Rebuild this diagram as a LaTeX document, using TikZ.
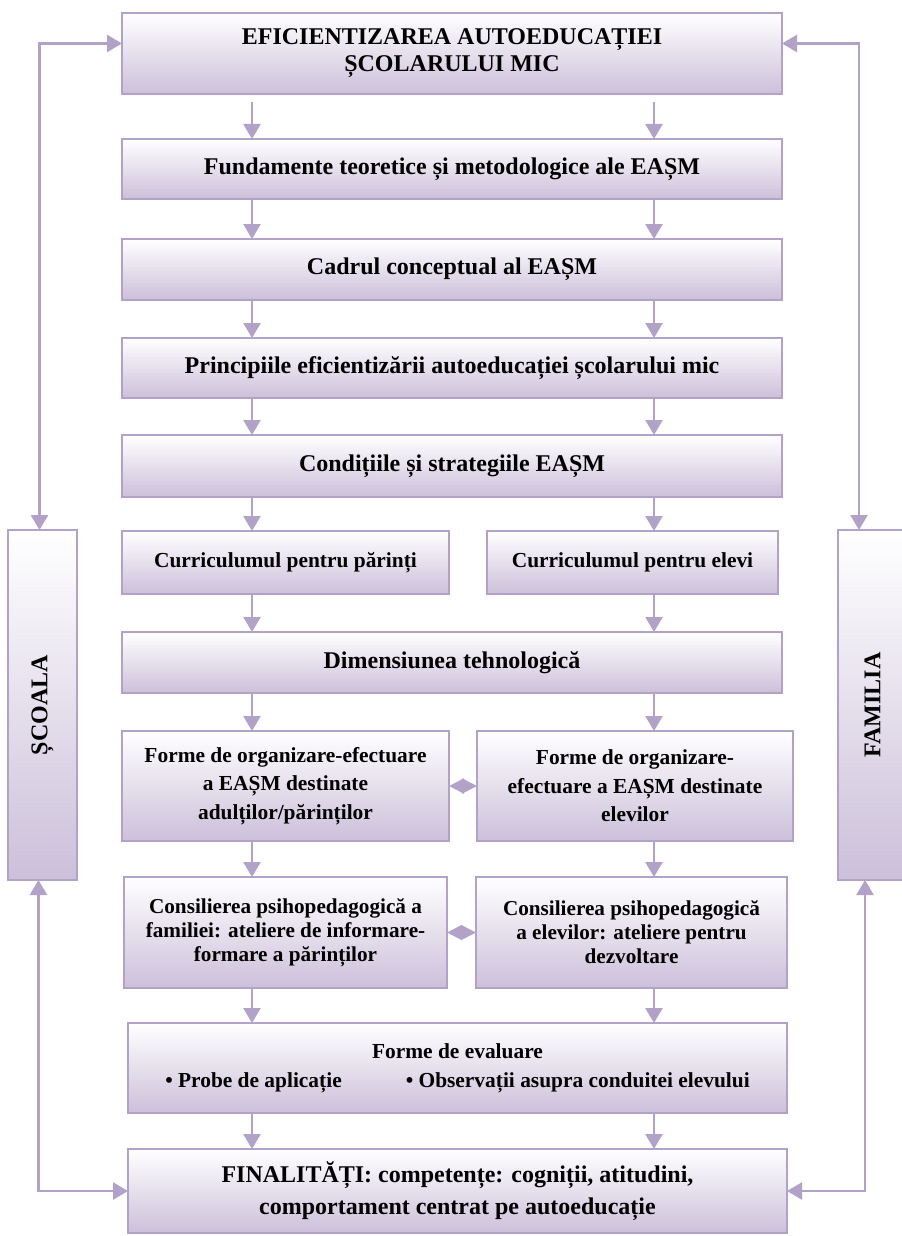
\documentclass[tikz,border=0pt]{standalone}
\usepackage{fontspec}
\setmainfont{Liberation Serif}
\usetikzlibrary{arrows.meta,positioning}
\definecolor{edgec}{RGB}{178,162,199}
\definecolor{fillc}{RGB}{204,192,218}

\begin{document}
\begin{tikzpicture}[->,>={Triangle[length=7.5pt,width=8.5pt]},line width=1.25pt,
    node distance=19pt,
    base box/.style={rectangle,draw=edgec,line width=1.3pt,top color=white,bottom color=fillc,
      align=center,inner sep=2pt,outer sep=0pt,font=\bfseries\fontsize{12}{14.4}\selectfont},
    small box/.style={base box,font=\bfseries\fontsize{10.7}{14.2}\selectfont},
    wide box/.style={base box,minimum width=330pt,minimum height=30.5pt},
    half box/.style={small box,minimum height=55pt},
    side box/.style={base box,minimum width=34.5pt,minimum height=175pt},
    conn/.style={draw=edgec,line width=1.25pt},
    link/.style={<->,>={Triangle[length=7.6pt,width=7.5pt]}}]

  \useasboundingbox (0,0) rectangle (450.5pt,-618pt);
  \coordinate (lx) at (126pt,0);
  \coordinate (rx) at (327pt,0);

  \node[base box,minimum width=330pt,minimum height=40.5pt,anchor=north west,
        font=\bfseries\fontsize{12}{13.5}\selectfont] (top) at (61pt,-6.5pt)
        {EFICIENTIZAREA AUTOEDUCAȚIEI\\ȘCOLARULUI MIC};
  \node[wide box,minimum height=30pt] (fund) [below=22.5pt of top] {Fundamente teoretice și metodologice ale EAȘM};
  \node[wide box]                     (cadru) [below=20pt of fund] {Cadrul conceptual al EAȘM};
  \node[wide box,minimum height=30pt] (princ) [below=19pt of cadru] {Principiile eficientizării autoeducației școlarului mic};
  \node[wide box,minimum height=31pt] (cond) [below=18.5pt of princ] {Condițiile și strategiile EAȘM};
  \node[small box,minimum width=163.5pt,minimum height=31.5pt] (curP) [below=17pt of cond.south west,anchor=north west] {Curriculumul pentru părinți};
  \node[small box,minimum width=145.5pt,minimum height=31.5pt] (curE) [right=19pt of curP] {Curriculumul pentru elevi};
  \node[wide box]                     (dim) [below=of curP.south west,anchor=north west] {Dimensiunea tehnologică};
  \node[half box,minimum width=163.5pt] (formeP) [below=of dim.south west,anchor=north west]
        {Forme de organizare-efectuare\\a EAȘM destinate\\adulților/părinților};
  \node[half box,minimum width=158pt]   (formeE) [right=14pt of formeP]
        {Forme de organizare-\\efectuare a EAȘM destinate\\elevilor};
  \node[half box,minimum width=161.5pt,minimum height=55.5pt,font=\bfseries\fontsize{10.6}{12}\selectfont]
        (consP) [below=18pt of formeP.south west,anchor=north west,xshift=1pt]
        {Consilierea psihopedagogică a\\familiei: ateliere de informare-\\formare a părinților};
  \node[half box,minimum width=155.5pt,minimum height=55.5pt,font=\bfseries\fontsize{10.6}{12}\selectfont]
        (consE) [right=14.5pt of consP]
        {Consilierea psihopedagogică\\a elevilor: ateliere pentru\\dezvoltare};
  \node[small box,minimum width=329.5pt,minimum height=45pt,font=\bfseries\fontsize{10.7}{14.5}\selectfont]
        (eval) [below=17.5pt of consP.south west,anchor=north west,xshift=2pt]
        {Forme de evaluare\\• Probe de aplicație\hspace{32pt}• Observații asupra conduitei elevului};
  \node[base box,minimum width=329.5pt,minimum height=42pt,font=\bfseries\fontsize{12}{16}\selectfont]
        (final) [below=18pt of eval]
        {FINALITĂȚI: competențe: cogniții, atitudini,\\comportament centrat pe autoeducație};

  \node[side box,anchor=north west] (scoala)  at (4pt,-265pt)   {\rotatebox{90}{ȘCOALA}};
  \node[side box,anchor=north west] (familia) at (419pt,-265pt) {\rotatebox{90}{FAMILIA}};

  % down the middle
  \draw[conn,shorten <=4pt] (top.south -| lx) -- (fund.north -| lx);
  \draw[conn,shorten <=4pt] (top.south -| rx) -- (fund.north -| rx);
  \foreach \a/\b in {fund/cadru,cadru/princ,princ/cond,cond/curP,curP/dim,dim/formeP,formeP/consP,consP/eval,eval/final}
    \draw[conn] (\a.south -| lx) -- (\b.north -| lx);
  \foreach \a/\b in {fund/cadru,cadru/princ,princ/cond,cond/curE,curE/dim,dim/formeE,formeE/consE,consE/eval,eval/final}
    \draw[conn] (\a.south -| rx) -- (\b.north -| rx);

  % between the pairs
  \draw[conn,link] (formeP) -- (formeE);
  \draw[conn,link] (consP) -- (consE);

  % school and family loops
  \draw[conn,<->] ([yshift=5pt]top.west) -| ([xshift=-1.5pt]scoala.north);
  \draw[conn,<->] ([xshift=-2pt]scoala.south) |- (final.west);
  \draw[conn,<->] ([yshift=5pt]top.east) -| ([xshift=-6.75pt]familia.north);
  \draw[conn,<->] ([xshift=-3.75pt]familia.south) |- (final.east);

\end{tikzpicture}
\end{document}
